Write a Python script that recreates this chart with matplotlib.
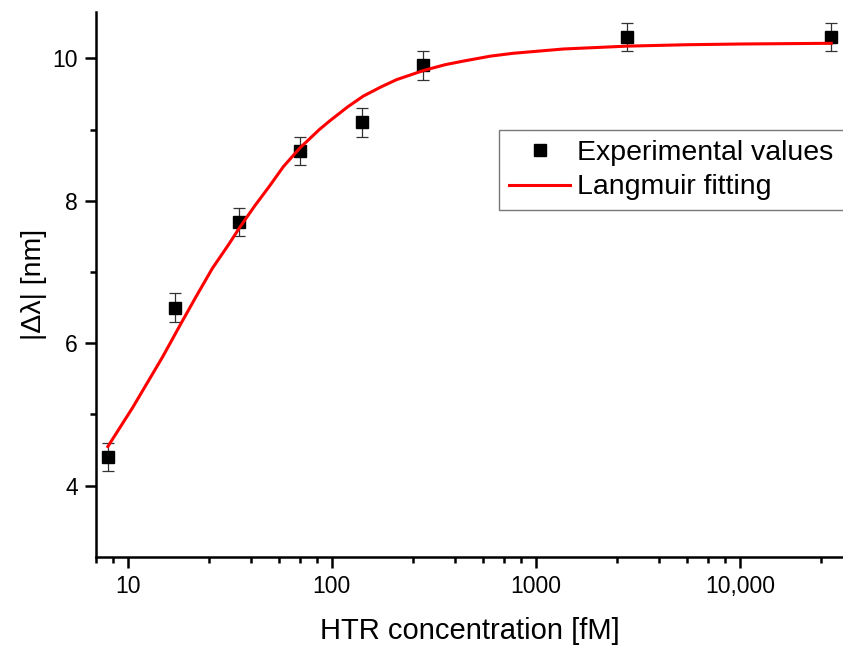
import matplotlib
matplotlib.use("Agg")
import matplotlib.pyplot as plt
from matplotlib.ticker import FixedLocator, NullFormatter

plt.rcParams['font.family'] = ['Liberation Sans', 'DejaVu Sans']

# measured points (HTR concentration in fM, |dlambda| in nm)
conc = [8, 17, 35, 70, 140, 280, 2800, 28000]
shift = [4.4, 6.5, 7.7, 8.7, 9.1, 9.9, 10.3, 10.3]
shift_err = [0.2, 0.2, 0.2, 0.2, 0.2, 0.2, 0.2, 0.2]

# Langmuir fit curve
fit_conc = [8, 10.6, 14.85, 18.2, 21.6, 26, 31.5, 35.3, 42, 49.4, 58, 69.8, 87, 97.7,
            120, 143, 175, 208, 283, 360, 441, 600, 776, 1365, 2790, 5500, 10000, 28000]
fit_shift = [4.55, 5.1, 5.81, 6.27, 6.65, 7.05, 7.40, 7.62, 7.93, 8.20, 8.48, 8.74, 9.00, 9.12,
             9.32, 9.47, 9.60, 9.70, 9.83, 9.91, 9.96, 10.03, 10.07, 10.13, 10.17, 10.19, 10.20, 10.21]

xticks = [10, 100, 1000, 10000]
xtick_labels = ['10', '100', '1000', '10,000']
xminor = [7, 8.5, 25, 40, 55, 70, 85, 250, 400, 550, 700, 850,
          2500, 4000, 5500, 7000, 8500, 25000]

fig = plt.figure(figsize=(8.43, 6.46), dpi=100)
ax = fig.add_axes([0.1139, 0.1378, 0.8861, 0.8437])

ax.errorbar(conc, shift, yerr=shift_err, fmt='none', ecolor='#333333',
            elinewidth=0.9, capsize=4.2, capthick=0.9, zorder=2)
ax.plot(conc, shift, 's', color='black', markersize=8.8, zorder=3,
        label='Experimental values')
ax.plot(fit_conc, fit_shift, color='#ff0000', linewidth=2.2, zorder=4,
        label='Langmuir fitting')

ax.set_xscale('log')
ax.set_xlim(7, 32000)
ax.set_ylim(3, 10.65)

ax.xaxis.set_major_locator(FixedLocator(xticks))
ax.set_xticklabels(xtick_labels)
ax.xaxis.set_minor_locator(FixedLocator(xminor))
ax.xaxis.set_minor_formatter(NullFormatter())
ax.yaxis.set_major_locator(FixedLocator([4, 6, 8, 10]))
ax.yaxis.set_minor_locator(FixedLocator([5, 7, 9]))

for side in ['top', 'right']:
    ax.spines[side].set_visible(False)
for side in ['left', 'bottom']:
    ax.spines[side].set_linewidth(1.8)

ax.tick_params(which='major', direction='out', length=8, width=1.8,
               labelsize=16.5, pad=5)
ax.tick_params(which='minor', direction='out', length=4.5, width=1.8)

ax.set_xlabel('HTR concentration [fM]', fontsize=21, labelpad=14)
ax.set_ylabel('|\u0394\u03bb| [nm]', fontsize=20.5, labelpad=4)

leg = ax.legend(loc='upper left', bbox_to_anchor=(0.592, 0.6796, 0.412, 0.1192),
                bbox_transform=fig.transFigure, mode='expand', fontsize=20.5,
                frameon=True, fancybox=False, handlelength=2.15, handletextpad=0.25,
                borderpad=0.35, labelspacing=0.3, borderaxespad=0)
leg.get_frame().set_edgecolor('#555555')
leg.get_frame().set_linewidth(1.0)

fig.savefig('out.png', dpi=100)
